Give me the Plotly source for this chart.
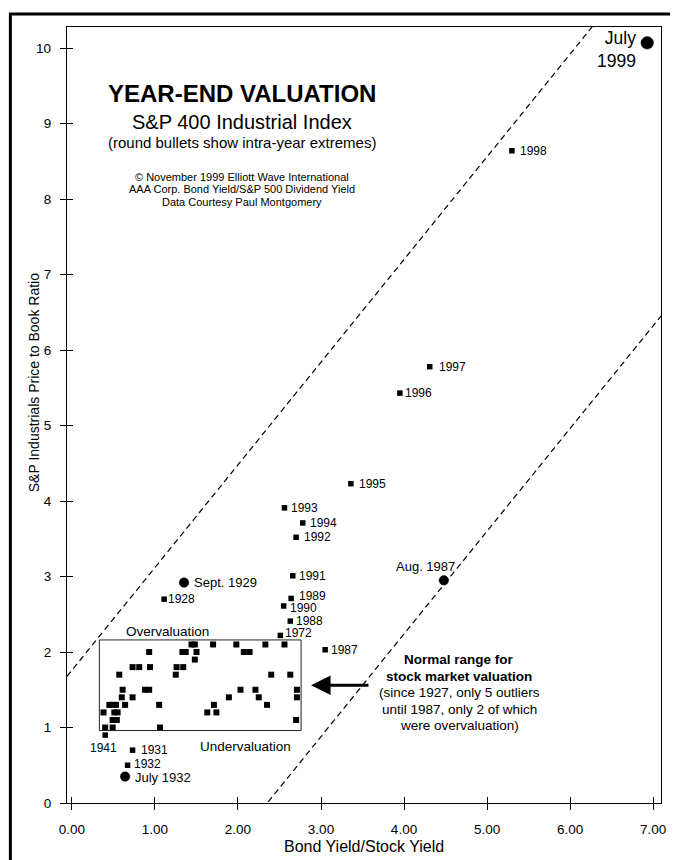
import plotly.graph_objects as go

# ---------------- data ----------------
# unlabeled year-end readings inside the "normal range" box
cluster_x = [1.44, 1.48, 1.70, 1.98, 2.33, 2.56,
             0.93, 1.33, 1.37, 1.50, 2.07, 2.14,
             1.48,
             0.73, 0.81, 0.94, 1.26, 1.34,
             0.57, 1.25, 2.40, 2.63,
             0.61, 0.88, 0.93, 2.03, 2.21, 2.71,
             0.60, 0.73, 1.89, 2.25, 2.71,
             0.45, 0.49, 0.53, 0.64, 1.05, 1.71, 2.35,
             0.38, 0.51, 0.55, 1.63, 1.74,
             0.49, 0.54, 2.70,
             0.40, 0.49, 1.06]
cluster_y = [2.1, 2.1, 2.1, 2.1, 2.1, 2.1,
             2.0, 2.0, 2.0, 2.0, 2.0, 2.0,
             1.9,
             1.8, 1.8, 1.8, 1.8, 1.8,
             1.7, 1.7, 1.7, 1.7,
             1.5, 1.5, 1.5, 1.5, 1.5, 1.5,
             1.4, 1.4, 1.4, 1.4, 1.4,
             1.3, 1.3, 1.3, 1.3, 1.3, 1.3, 1.3,
             1.2, 1.2, 1.2, 1.2, 1.2,
             1.1, 1.1, 1.1,
             1.0, 1.0, 1.0]

# labeled year-end readings
year_names = ["1928", "1931", "1932", "1941", "1972", "1987", "1988", "1989",
              "1990", "1991", "1992", "1993", "1994", "1995", "1996", "1997", "1998"]
year_x = [1.11, 0.73, 0.67, 0.40, 2.51, 3.05, 2.63, 2.64,
          2.55, 2.66, 2.70, 2.56, 2.78, 3.36, 3.95, 4.31, 5.30]
year_y = [2.70, 0.70, 0.50, 0.90, 2.22, 2.03, 2.41, 2.71,
          2.61, 3.01, 3.52, 3.91, 3.71, 4.23, 5.43, 5.78, 8.64]

# intra-year extremes (round bullets)
extreme_names = ["Sept. 1929", "July 1932", "Aug. 1987", "July<br>1999"]
extreme_x = [1.35, 0.64, 4.48, 6.93]
extreme_y = [2.92, 0.35, 2.95, 10.07]

# normal valuation band (dashed lines): y = slope * x + intercept
band_slope = 1.36
band_intercepts = [1.76, -3.20]

# normal-range box
box_x = [0.33, 2.76]
box_y = [0.96, 2.16]

x_tickvals = [0, 1, 2, 3, 4, 5, 6, 7]
x_ticktext = ["0.00", "1.00", "2.00", "3.00", "4.00", "5.00", "6.00", "7.00"]
y_tickvals = [0, 1, 2, 3, 4, 5, 6, 7, 8, 9, 10]
y_ticktext = ["0", "1", "2", "3", "4", "5", "6", "7", "8", "9", "10"]

# ---------------- layout helpers ----------------
PAGE_W, PAGE_H = 678, 860
OFF = 8  # browser body margin
W, H = PAGE_W - OFF, PAGE_H - OFF
L, R, T, B = 67, 665, 27, 803  # plot area in page pixels
x_range = [-0.06, 7.096]
y_range = [0, 10.28]
FONT = "Liberation Sans, Arial, Helvetica, sans-serif"


def pxx(p):
    return (p - L) / (R - L)


def pxy(p):
    return (B - p) / (B - T)


fig = go.Figure()

# dashed band lines
for b in band_intercepts:
    xs = [x_range[0], x_range[1]]
    fig.add_trace(go.Scatter(x=xs, y=[band_slope * v + b for v in xs], mode="lines",
                             line=dict(color="black", width=1.2, dash="6px,4px"),
                             hoverinfo="skip", showlegend=False))

fig.add_trace(go.Scatter(x=cluster_x, y=cluster_y, mode="markers",
                         marker=dict(symbol="square", size=6, color="black", opacity=1,
                                     line=dict(color="black", width=0)),
                         hoverinfo="skip", showlegend=False))
fig.add_trace(go.Scatter(x=year_x, y=year_y, mode="markers",
                         marker=dict(symbol="square", size=5.5, color="black", opacity=1),
                         hoverinfo="skip", showlegend=False))
fig.add_trace(go.Scatter(x=extreme_x, y=extreme_y, mode="markers",
                         marker=dict(symbol="circle", size=[9.5, 9.5, 9.5, 12.5], color="black",
                                     opacity=1, line=dict(color="black", width=0.5)),
                         hoverinfo="skip", showlegend=False, cliponaxis=False))
# carrier trace for the inner tick marks
fig.add_trace(go.Scatter(x=[None], y=[None], xaxis="x2", yaxis="y2",
                         showlegend=False, hoverinfo="skip"))

annotations = []

# year labels: (xanchor, xshift, yshift)
year_label_pos = {
    "1941": ("center", -2, -13),
}
default_shift = {"1928": 2, "1931": 6, "1932": 4, "1972": 3, "1987": 4, "1988": 4,
                 "1989": 6, "1990": 4, "1991": 4, "1992": 6, "1993": 5, "1994": 5,
                 "1995": 6, "1996": 3, "1997": 7, "1998": 6}
year_yshift = {"1989": 2, "1990": -2, "1972": 2, "1932": 1}
for n, xv, yv in zip(year_names, year_x, year_y):
    if n in year_label_pos:
        xa, xs_, ys_ = year_label_pos[n]
    else:
        xa, xs_, ys_ = "left", default_shift.get(n, 5), year_yshift.get(n, 0)
    annotations.append(dict(x=xv, y=yv, xref="x", yref="y", text=n, showarrow=False,
                            xanchor=xa, yanchor="middle", xshift=xs_, yshift=ys_,
                            font=dict(family=FONT, size=12, color="black")))

extreme_label_pos = [("left", 8, 0, 13), ("left", 8, -1, 13),
                     ("center", -18, 14, 13), ("right", -9, -7, 17.5)]
for n, xv, yv, (xa, xs_, ys_, fs) in zip(extreme_names, extreme_x, extreme_y, extreme_label_pos):
    annotations.append(dict(x=xv, y=yv, xref="x", yref="y", text=n, showarrow=False,
                            xanchor=xa, yanchor="middle", xshift=xs_, yshift=ys_,
                            align="right" if xa == "right" else "left",
                            font=dict(family=FONT, size=fs, color="black")))

# box labels
annotations.append(dict(x=pxx(168), y=pxy(631), xref="paper", yref="paper", text="Overvaluation",
                        showarrow=False, xanchor="center", yanchor="middle",
                        font=dict(family=FONT, size=13.5, color="black")))
annotations.append(dict(x=pxx(247), y=pxy(746), xref="paper", yref="paper", text="Undervaluation",
                        showarrow=False, xanchor="center", yanchor="middle",
                        font=dict(family=FONT, size=13.5, color="black")))

# arrow
annotations.append(dict(x=2.88, y=1.56, ax=3.59, ay=1.56, xref="x", yref="y", axref="x", ayref="y",
                        text="", showarrow=True, arrowhead=2, arrowsize=1.3, arrowwidth=3,
                        arrowcolor="black", standoff=0))

# normal range note
note_lines = [("<b>Normal range for</b>", 659), ("<b>stock market valuation</b>", 676),
              ("(since 1927, only 5 outliers", 692), ("until 1987, only 2 of which", 709),
              ("were overvaluation)", 725)]
for txt, yp in note_lines:
    annotations.append(dict(x=pxx(462), y=pxy(yp), xref="paper", yref="paper", text=txt,
                            showarrow=False, xanchor="center", yanchor="middle",
                            font=dict(family=FONT, size=13.5, color="black")))

# title block
title_lines = [("<b>YEAR-END VALUATION</b>", 93, 24), ("S&P 400 Industrial Index", 122, 20),
               ("(round bullets show intra-year extremes)", 142, 15),
               ("© November 1999 Elliott Wave International", 177, 11),
               ("AAA Corp. Bond Yield/S&P 500 Dividend Yield", 189, 11),
               ("Data Courtesy Paul Montgomery", 202, 11)]
for txt, yp, fs in title_lines:
    annotations.append(dict(x=pxx(243), y=pxy(yp), xref="paper", yref="paper", text=txt,
                            showarrow=False, xanchor="center", yanchor="middle",
                            font=dict(family=FONT, size=fs, color="black")))

# axis titles
annotations.append(dict(x=pxx(366), y=pxy(846), xref="paper", yref="paper",
                        text="Bond Yield/Stock Yield", showarrow=False,
                        xanchor="center", yanchor="middle",
                        font=dict(family=FONT, size=16, color="black")))
annotations.append(dict(x=pxx(34), y=pxy(383), xref="paper", yref="paper",
                        text="S&P Industrials Price to Book Ratio", showarrow=False,
                        textangle=-90, xanchor="center", yanchor="middle",
                        font=dict(family=FONT, size=14, color="black")))

shapes = [
    dict(type="rect", xref="x", yref="y", x0=box_x[0], x1=box_x[1], y0=box_y[0], y1=box_y[1],
         line=dict(color="#222", width=1)),
    dict(type="rect", xref="paper", yref="paper", x0=pxx(10), x1=pxx(700), y0=pxy(880), y1=pxy(14),
         line=dict(color="black", width=3)),
]

axis_common = dict(showgrid=False, zeroline=False, color="black",
                   tickfont=dict(family=FONT, size=13.5, color="black"))

fig.update_layout(
    width=W, height=H, margin=dict(l=L - OFF, r=PAGE_W - R, t=T - OFF, b=PAGE_H - B),
    paper_bgcolor="white", plot_bgcolor="white", showlegend=False,
    annotations=annotations, shapes=shapes,
    xaxis=dict(range=x_range, tickvals=x_tickvals, ticktext=x_ticktext, ticks="outside",
               ticklen=6, tickwidth=1.3, tickcolor="black", showline=True, linewidth=1.3,
               linecolor="black", mirror=True, ticklabelstandoff=8, **axis_common),
    yaxis=dict(range=y_range, tickvals=y_tickvals, ticktext=y_ticktext, ticks="outside",
               ticklen=6, tickwidth=1.3, tickcolor="black", showline=True, linewidth=1.3,
               linecolor="black", mirror=True, ticklabelstandoff=6, **axis_common),
    xaxis2=dict(overlaying="x", anchor="y2", range=x_range, tickvals=x_tickvals, ticks="inside",
                ticklen=6, tickwidth=1.3, tickcolor="black", showticklabels=False,
                showline=False, showgrid=False, zeroline=False),
    yaxis2=dict(overlaying="y", anchor="x2", range=y_range, tickvals=y_tickvals, ticks="inside",
                ticklen=6, tickwidth=1.3, tickcolor="black", showticklabels=False,
                showline=False, showgrid=False, zeroline=False),
)

fig.write_html("out.html")
